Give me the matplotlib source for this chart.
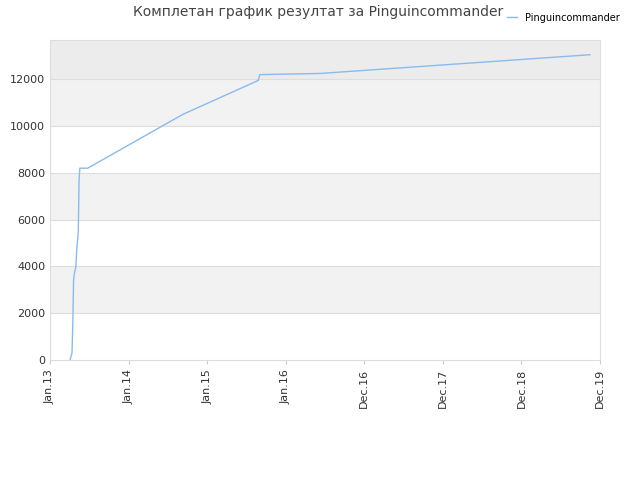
import matplotlib
matplotlib.use("Agg")
import matplotlib.pyplot as plt

tick_labels = ["Jan.13", "Jan.14", "Jan.15", "Jan.16", "Dec.16", "Dec.17", "Dec.18", "Dec.19"]
x_years = [0.255, 0.28, 0.29, 0.30, 0.31, 0.33, 0.34, 0.36, 0.37, 0.38, 0.48, 1.69, 2.65, 2.67, 3.44, 6.87]
scores = [0, 300, 1500, 3400, 3700, 4000, 4700, 5500, 7700, 8200, 8200, 10500, 11950, 12200, 12250, 13050]

fig = plt.figure(figsize=(6.4, 4.8), dpi=100)
ax = fig.add_axes([50/640, 120/480, 550/640, 320/480])
ymax = 13680
for lo, hi, c in [(2000, 4000, "#f2f2f2"), (6000, 8000, "#f2f2f2"), (10000, 12000, "#f2f2f2"), (12000, ymax, "#ececec")]:
    ax.axhspan(lo, hi, color=c, zorder=0, lw=0)
for y in range(2000, 14000, 2000):
    ax.axhline(y, color="#dddddd", lw=0.8, zorder=1)
ax.plot(x_years, scores, color="#88bbee", lw=1, label="Pinguincommander", zorder=3)
ax.set_xlim(0, 7)
ax.set_ylim(0, ymax)
ax.set_xticks(range(8))
ax.set_xticklabels(tick_labels, rotation=90, fontsize=8, color="#333333")
ax.set_yticks(range(0, 14000, 2000))
ax.tick_params(axis="y", labelsize=8, colors="#333333", length=0)
ax.tick_params(axis="x", length=3, color="#cccccc")
for s in ax.spines.values():
    s.set_color("#dddddd")
fig.text(318/640, 1 - 12/480, "Комплетан график резултат за Pinguincommander", ha="center", va="center", fontsize=10, color="#444444")
fig.legend(loc="upper right", bbox_to_anchor=(628/640, 1 - 4/480), frameon=False, fontsize=7, handlelength=1)
fig.savefig("out.png", dpi=100)
